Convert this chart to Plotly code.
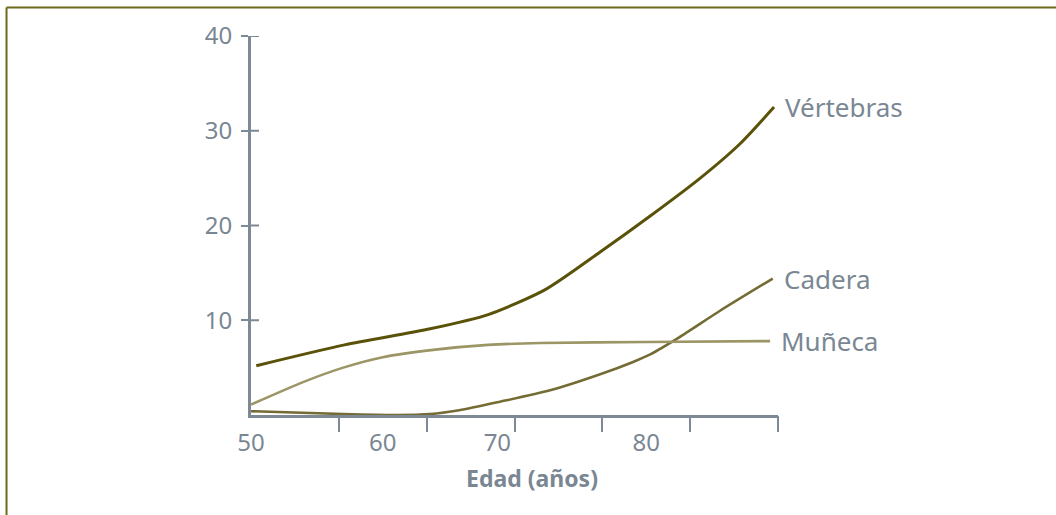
import plotly.graph_objects as go

# Data (age in years)
vert_age = [50.4, 57.1, 63.6, 68.0, 72.3, 76.5, 80.3, 84.1, 87.1, 89.7]
vert_val = [5.2, 7.4, 9.1, 10.6, 13.2, 17.2, 21.0, 25.0, 28.6, 32.5]

muna_age = [50.0, 54.0, 57.0, 60.0, 64.0, 68.0, 72.0, 80.0, 89.4]
muna_val = [1.1, 3.5, 5.0, 6.1, 6.9, 7.4, 7.6, 7.7, 7.8]

cad_age = [50.0, 57.0, 61.0, 63.6, 65.8, 68.9, 72.7, 76.5, 79.0, 80.3, 82.5, 85.6, 89.6]
cad_val = [0.4, 0.1, 0.0, 0.1, 0.5, 1.4, 2.6, 4.3, 5.6, 6.4, 8.2, 11.0, 14.4]

series_names = ["Vértebras", "Cadera", "Muñeca"]
series_colors = ["#5a5208", "#746c34", "#9c9565"]

x_label_vals = [50, 60, 68.7, 80]
x_label_text = ["50", "60", "70", "80"]
x_tick_marks = [50 + 20 / 3 * i for i in range(1, 7)]
y_ticks = [10, 20, 30, 40]

AXIS_COLOR = "#7d8995"
TEXT_COLOR = "#7a8793"
FONT = "Noto Sans"
PLOT_W = 1056 - 251 - 278

fig = go.Figure()
for name, xs, ys, col, w in [
    (series_names[0], vert_age, vert_val, series_colors[0], 3),
    (series_names[1], cad_age, cad_val, series_colors[1], 2.6),
    (series_names[2], muna_age, muna_val, series_colors[2], 2.6),
]:
    fig.add_trace(go.Scatter(x=xs, y=ys, mode="lines", name=name,
                             line=dict(color=col, width=w, shape="spline", smoothing=0.7),
                             showlegend=False, hoverinfo="skip"))
    fig.add_annotation(x=xs[-1], y=ys[-1], text=name, showarrow=False,
                       xanchor="left", yanchor="middle", xshift=9,
                       font=dict(family=FONT, size=26, color=TEXT_COLOR))

# invisible helper trace so the secondary tick-mark x axis is drawn
fig.add_trace(go.Scatter(x=muna_age, y=muna_val, xaxis="x2", yaxis="y", mode="lines",
                         opacity=0, showlegend=False, hoverinfo="skip"))

# inner halves of the crossing y ticks
for v in y_ticks:
    fig.add_shape(type="line", xref="paper", yref="y", x0=0, x1=8 / PLOT_W, y0=v, y1=v,
                  line=dict(color=AXIS_COLOR, width=2), layer="above")

fig.add_annotation(x=0.533, y=-0.166, xref="paper", yref="paper",
                   xanchor="center", yanchor="middle",
                   text="<b>Edad (años)</b>", showarrow=False,
                   font=dict(family=FONT, size=23, color=TEXT_COLOR))

# frame lines (top and left)
fig.add_shape(type="line", xref="paper", yref="paper", x0=-0.4639, x1=1.53, y0=1.0752, y1=1.0752,
              line=dict(color="#6e6a1c", width=2))
fig.add_shape(type="line", xref="paper", yref="paper", x0=-0.4639, x1=-0.4639, y0=1.0752, y1=-0.27,
              line=dict(color="#6e6a1c", width=2))

fig.update_layout(
    width=1056, height=515,
    margin=dict(l=251, r=278, t=36, b=100),
    paper_bgcolor="white", plot_bgcolor="rgba(0,0,0,0)",
    xaxis=dict(range=[50, 90], domain=[0, 1], showgrid=False, zeroline=False, showline=True,
               linecolor=AXIS_COLOR, linewidth=3, ticks="",
               tickmode="array", tickvals=x_label_vals, ticktext=x_label_text,
               tickfont=dict(family=FONT, size=24, color=TEXT_COLOR),
               ticklabelstandoff=4),
    xaxis2=dict(range=[50, 90], overlaying="x", anchor="y", side="bottom",
                showgrid=False, zeroline=False, showline=False,
                ticks="outside", ticklen=16, tickwidth=2, tickcolor=AXIS_COLOR,
                tickmode="array", tickvals=x_tick_marks, showticklabels=False),
    yaxis=dict(range=[0, 40], showgrid=False, zeroline=False, showline=True,
               linecolor=AXIS_COLOR, linewidth=3, ticks="outside", ticklen=7,
               tickwidth=2, tickcolor=AXIS_COLOR,
               tickmode="array", tickvals=y_ticks,
               tickfont=dict(family=FONT, size=24, color=TEXT_COLOR),
               ticklabelstandoff=4),
)

fig.write_html("out.html", config={"displayModeBar": False},
               post_script="document.body.style.margin='0';")
